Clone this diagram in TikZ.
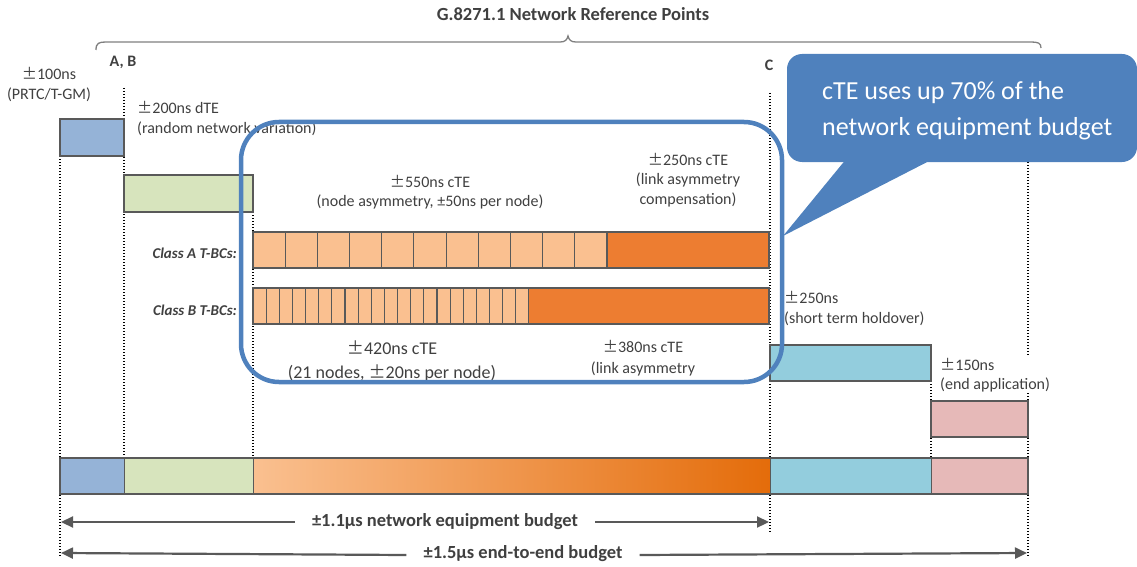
\documentclass[tikz,border=0pt]{standalone}
\usepackage{fontspec}
\setmainfont{Carlito}
\newfontfamily\cjkfont{Noto Sans CJK JP}[Scale=0.95]
\newcommand\pmw{{\cjkfont\symbol{"00B1}}}
\usetikzlibrary{arrows.meta,calc}
\definecolor{txt}{HTML}{404040}
\definecolor{cprtc}{HTML}{95B3D7}
\definecolor{cgreen}{HTML}{D7E4BD}
\definecolor{clor}{HTML}{FAC090}
\definecolor{cdor}{HTML}{ED7D31}
\definecolor{cgrad}{HTML}{E46C0A}
\definecolor{clb}{HTML}{93CDDD}
\definecolor{cpink}{HTML}{E6B9B8}
\definecolor{cblue}{HTML}{4F81BD}
\definecolor{cedge}{HTML}{595959}
\definecolor{cbrace}{HTML}{7F7F7F}
\begin{document}
\begin{tikzpicture}[x=1pt,y=-1pt,
  lbl/.style={text=txt, font=\fontsize{16}{20}\selectfont, inner sep=0pt, align=center},
  boldlbl/.style={text=txt, font=\fontsize{16}{20}\selectfont\bfseries, inner sep=0pt},
  classlbl/.style={text=txt, font=\fontsize{15}{18}\selectfont\bfseries\itshape, inner sep=0pt, anchor=east},
  budget/.style={text=txt, font=\fontsize{18.5}{22}\selectfont\bfseries, fill=white, inner xsep=17pt, inner ysep=2pt},
  box/.style={draw=cedge, line width=1.3pt, inner sep=0pt, outer sep=0pt, anchor=north west},
  cell/.style={draw=cedge, line width=1.1pt},
  dotline/.style={black, line width=1.4pt, dash pattern=on 1.4pt off 1.6pt},
  arr/.style={draw=cedge, line width=2.2pt, -{Triangle[length=12pt,width=11pt]}},
]
\useasboundingbox (0,0) rectangle (1137,567);

% brace
\draw[cbrace, line width=1.3pt] (96,50) .. controls (96,43) and (99,42) .. (106,42) -- (560,42)
  .. controls (565,42) and (567,40) .. (568,36) .. controls (569,40) and (571,42) .. (576,42)
  -- (1031,42) .. controls (1038,42) and (1041,43) .. (1041,48);
\node[text=txt, font=\fontsize{18.5}{22}\selectfont\bfseries, inner sep=0pt] (title) at (573,14) {G.8271.1 Network Reference Points};

% dotted guide lines
\coordinate (d1t) at (60,156);  \coordinate (d1b) at (60,556);
\coordinate (d2t) at (124,88);  \coordinate (d2b) at (124,458);
\coordinate (d3t) at (253,212); \coordinate (d3b) at (253,458);
\coordinate (d4t) at (770,93);  \coordinate (d4b) at (770,532);
\coordinate (d5t) at (931,381); \coordinate (d5b) at (931,458);
\coordinate (d6t) at (1028,60); \coordinate (d6b) at (1028,556);
\foreach \i in {1,...,6} {\draw[dotline] (d\i t) -- (d\i b);}

% budget boxes
\node[box, fill=cprtc, minimum width=64pt, minimum height=37pt] (prtc) at (60,119) {};
\node[box, fill=cgreen, minimum width=129pt, minimum height=37pt] (dte) at (124,175) {};
\node[box, fill=clb, minimum width=161pt, minimum height=36pt] (hold) at (770,345) {};
\node[box, fill=cpink, minimum width=97pt, minimum height=36pt] (endapp) at (931,401) {};

% Class A bar
\fill[cdor] (607,232) rectangle (769,268);
\foreach \k in {0,...,10} {
  \filldraw[fill=clor, cell] ({253+\k*32.18},232) rectangle ({253+(\k+1)*32.18},268);
}
\draw[cell] (253,232) rectangle (769,268);
% Class B bar
\fill[cdor] (529,288) rectangle (769,324);
\foreach \k in {0,...,20} {
  \filldraw[fill=clor, cell] ({253+\k*13.14},288) rectangle ({253+(\k+1)*13.14},324);
}
\draw[cell] (253,288) rectangle (769,324);

% bottom bar
\fill[cprtc] (60,458) rectangle (124,494);
\fill[cgreen] (124,458) rectangle (253,494);
\shade[left color=clor, right color=cgrad] (253,458) rectangle (770,494);
\fill[clb] (770,458) rectangle (931,494);
\fill[cpink] (931,458) rectangle (1028,494);
\foreach \xa in {124,253,770,931} {\draw[cedge, line width=1pt] (\xa,458) -- (\xa,494);}
\draw[cedge, line width=1.5pt] (60,458) rectangle (1028,494);

% labels
\node[boldlbl] (ab) at (123,62) {A, B};
\node[boldlbl] (c) at (769,65) {C};
\node[lbl] (l100) at (49,84) {\pmw100ns\\(PRTC/T-GM)};
\node[lbl, align=left, anchor=west] (l200) at (137,118) {\pmw200ns dTE\\(random network variation)};
\node[lbl, font=\fontsize{16}{18.5}\selectfont] (l550) at (430,192) {\pmw550ns cTE\\(node asymmetry, ±50ns per node)};
\node[lbl, font=\fontsize{16}{19.5}\selectfont] (l250c) at (688,180) {\pmw250ns cTE\\(link asymmetry\\compensation)};
\node[classlbl] (ca) at (237,253) {Class A T-BCs:};
\node[classlbl] (cb) at (237,310) {Class B T-BCs:};
\node[lbl, font=\fontsize{18}{24}\selectfont] (l420) at (392,361) {\pmw420ns cTE\\(21 nodes, \pmw20ns per node)};
\node[lbl, font=\fontsize{16}{21}\selectfont] (l380) at (643,358) {\pmw380ns cTE\\(link asymmetry};
\node[lbl, align=left, anchor=west] (l250h) at (784,308) {\pmw250ns\\(short term holdover)};
\node[lbl, align=left, anchor=west, fill=white, inner sep=1pt, font=\fontsize{16}{19.5}\selectfont] (l150) at (939,375) {\pmw150ns\\(end application)};

% budget arrows
\node[budget] (b11) at (445,522) {±1.1µs network equipment budget};
\node[budget] (b15) at (523,554) {±1.5µs end-to-end budget};
\coordinate (b11l) at (61,522); \coordinate (b11r) at (769,522);
\coordinate (b15l) at (61,553); \coordinate (b15r) at (1027,553);
\draw[arr] (b11.west) -- (b11l);
\draw[arr] (b11.east) -- (b11r);
\draw[arr] ([yshift=-1pt]b15.west) -- (b15l);
\draw[arr] ([yshift=-1pt]b15.east) -- (b15r);

% highlight rounded rectangle
\draw[cblue, line width=4.5pt, rounded corners=38pt] (241,122) rectangle (782,382);

% callout
\fill[cblue, rounded corners=15pt] (787,54) rectangle (1137,162);
\coordinate (tip) at (783,236);
\fill[cblue] (847,158) -- (tip) -- (935,158) -- cycle;
\node[text=white, font=\fontsize{26}{36}\selectfont, align=left, anchor=west, inner sep=0pt] (callout) at (822,111) {cTE uses up 70\% of the\\network equipment budget};
\end{tikzpicture}
\end{document}
